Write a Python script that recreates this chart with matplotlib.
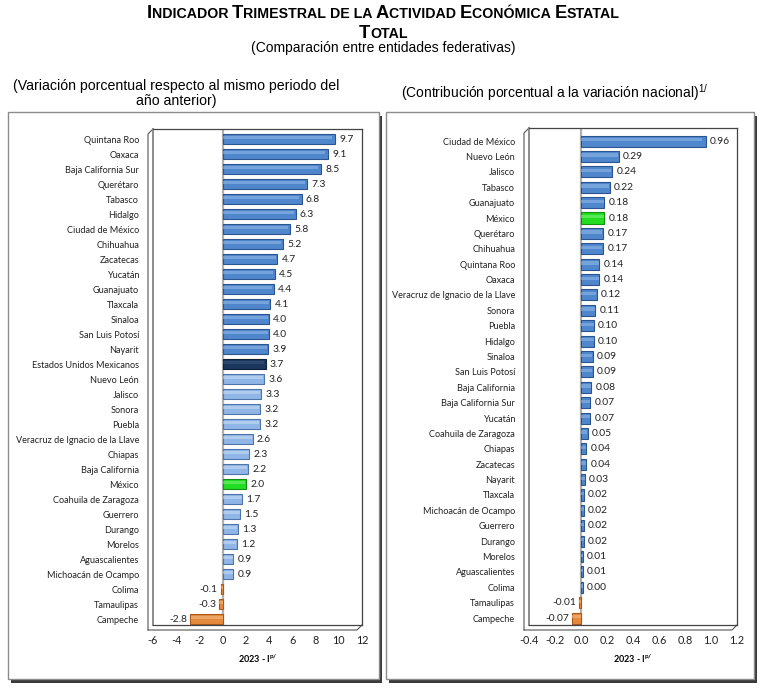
import numpy as np
import matplotlib.pyplot as plt
from matplotlib.patches import Rectangle
from matplotlib.lines import Line2D
from matplotlib.offsetbox import TextArea, HPacker, AnnotationBbox
from matplotlib import font_manager

# ---- data -------------------------------------------------------------
estados_var = ["Quintana Roo", "Oaxaca", "Baja California Sur", "Querétaro", "Tabasco",
               "Hidalgo", "Ciudad de México", "Chihuahua", "Zacatecas", "Yucatán",
               "Guanajuato", "Tlaxcala", "Sinaloa", "San Luis Potosí", "Nayarit",
               "Estados Unidos Mexicanos", "Nuevo León", "Jalisco", "Sonora", "Puebla",
               "Veracruz de Ignacio de la Llave", "Chiapas", "Baja California", "México",
               "Coahuila de Zaragoza", "Guerrero", "Durango", "Morelos", "Aguascalientes",
               "Michoacán de Ocampo", "Colima", "Tamaulipas", "Campeche"]
var_pct = [9.7, 9.1, 8.5, 7.3, 6.8, 6.3, 5.8, 5.2, 4.7, 4.5, 4.4, 4.1, 4.0, 4.0, 3.9,
           3.7, 3.6, 3.3, 3.2, 3.2, 2.6, 2.3, 2.2, 2.0, 1.7, 1.5, 1.3, 1.2, 0.9, 0.9,
           -0.1, -0.3, -2.8]

estados_con = ["Ciudad de México", "Nuevo León", "Jalisco", "Tabasco", "Guanajuato", "México",
               "Querétaro", "Chihuahua", "Quintana Roo", "Oaxaca",
               "Veracruz de Ignacio de la Llave", "Sonora", "Puebla", "Hidalgo", "Sinaloa",
               "San Luis Potosí", "Baja California", "Baja California Sur", "Yucatán",
               "Coahuila de Zaragoza", "Chiapas", "Zacatecas", "Nayarit", "Tlaxcala",
               "Michoacán de Ocampo", "Guerrero", "Durango", "Morelos", "Aguascalientes",
               "Colima", "Tamaulipas", "Campeche"]
contrib = [0.96, 0.29, 0.24, 0.22, 0.18, 0.18, 0.17, 0.17, 0.14, 0.14, 0.12, 0.11, 0.10,
           0.10, 0.09, 0.09, 0.08, 0.07, 0.07, 0.05, 0.04, 0.04, 0.03, 0.02, 0.02, 0.02,
           0.02, 0.01, 0.01, 0.00, -0.01, -0.07]

# ---- fonts ------------------------------------------------------------
names = {f.name for f in font_manager.fontManager.ttflist}
narrow = ["Liberation Sans Narrow", "Liberation Sans"] if "Liberation Sans Narrow" in names else ["Liberation Sans"]
lblfont = ["Lato", "DejaVu Sans"]
plt.rcParams['font.family'] = lblfont

W, H = 766, 689
fig = plt.figure(figsize=(W / 100, H / 100), dpi=100)

def fx(px):
    return px / W

def fy(py):
    return 1 - py / H

# colours: (main, highlight, edge)
C_BLUE = ("#4f86cc", "#9cc0ec", "#2c5590")
C_LIGHT = ("#8fb6e6", "#d0e1f5", "#4f74a8")
C_NAVY = ("#1b365d", "#3d5a85", "#0e1f38")
C_GREEN = ("#22dd22", "#8af58a", "#139013")
C_ORANGE = ("#e58a3c", "#f5c08e", "#a85a1c")

# ---- titles -----------------------------------------------------------
def smallcaps(words, big, small):
    # words: list of (text, capitalised?)
    parts = []
    for k, (w, cap) in enumerate(words):
        t = w if k == len(words) - 1 else w + " "
        if cap:
            parts.append(TextArea(t[0], textprops=dict(size=big, weight="bold", family=narrow)))
            t = t[1:]
        if t:
            parts.append(TextArea(t.upper(), textprops=dict(size=small, weight="bold", family=narrow)))
    return HPacker(children=parts, align="baseline", pad=0, sep=0)

t1 = smallcaps([("Indicador", True), ("Trimestral", True), ("de la", False),
                ("Actividad", True), ("Económica", True), ("Estatal", True)], 13.2, 10.2)
fig.add_artist(AnnotationBbox(t1, (0.5, fy(13)), xycoords="figure fraction", frameon=False,
                              box_alignment=(0.5, 0.5), pad=0))
t2 = smallcaps([("Total", True)], 13.2, 10.2)
fig.add_artist(AnnotationBbox(t2, (0.5, fy(33)), xycoords="figure fraction", frameon=False,
                              box_alignment=(0.5, 0.5), pad=0))
fig.text(0.5, fy(48), "(Comparación entre entidades federativas)", ha="center", va="center",
         size=10, family=narrow)

fig.text(fx(176), fy(86), "(Variación porcentual respecto al mismo periodo del",
         ha="center", va="center", size=10.2, family=narrow)
fig.text(fx(176), fy(101), "año anterior)", ha="center", va="center", size=10.2, family=narrow)
fig.text(fx(555), fy(93), "(Contribución porcentual a la variación nacional)$^{\\mathregular{1/}}$",
         ha="center", va="center", size=10, family=narrow)

# ---- panel frames -----------------------------------------------------
for (x0, x1) in [(8, 379), (386, 754)]:
    y0, y1 = 112, 679
    fig.patches.append(Rectangle((fx(x0 + 3), fy(y1 + 4)), fx(x1 - x0), fy(y0) - fy(y1),
                                 transform=fig.transFigure, facecolor="#3a3a3a",
                                 edgecolor="none", zorder=-3))
    fig.patches.append(Rectangle((fx(x0), fy(y1)), fx(x1 - x0), fy(y0) - fy(y1),
                                 transform=fig.transFigure, facecolor="white",
                                 edgecolor="#8c8c8c", linewidth=1.0, zorder=-2))

# ---- bar charts -------------------------------------------------------
def draw_panel(rect, labels, values, colors, xlim, ticks, fmt, tfmt, ylim_pad, bh, minw):
    ax = fig.add_axes(rect)
    ax.patch.set_alpha(0)
    n = len(values)
    y = np.arange(n)[::-1]
    ax.set_xlim(*xlim)
    ax.set_ylim(-ylim_pad[0], n - 1 + ylim_pad[1])
    ax.axvline(0, color="#b0b0b0", linewidth=1.6, zorder=1)
    span = xlim[1] - xlim[0]
    for yi, v, c in zip(y, values, colors):
        w = v if abs(v) >= minw else (minw if v >= 0 else -minw)
        ax.barh(yi, w, height=bh, color=c[0], edgecolor=c[2], linewidth=0.8, zorder=2)
        ax.barh(yi + bh * 0.12, w * 0.97, left=0, height=bh * 0.3,
                color=c[1], alpha=0.5, linewidth=0, zorder=3)
        if v >= 0:
            ax.text(w + span * 0.02, yi, fmt.format(v), va="center", ha="left", size=7.4,
                    color="#222222")
        else:
            ax.text(w - span * 0.015, yi, fmt.format(v), va="center", ha="right", size=7.4,
                    color="#222222")
    ax.set_yticks(y)
    ax.set_yticklabels(labels, size=6.6, color="#222222")
    ax.set_xticks(ticks)
    ax.set_xticklabels([tfmt.format(t) for t in ticks], size=7.8, color="#222222")
    ax.tick_params(length=0, pad=7)
    ax.tick_params(axis="y", pad=10)
    for s in ax.spines.values():
        s.set_color("#444444")
        s.set_linewidth(0.9)
    ax.spines["left"].set_color("#8c8c8c")
    ax.spines["left"].set_linewidth(1.4)
    # pseudo 3D wall / floor edges
    tr = ax.transAxes
    dxw = 5 / (rect[2] * W)
    dyw = 5 / (rect[3] * H)
    ax.add_line(Line2D([-dxw, -dxw, 0], [-dyw, 1 - dyw, 1], transform=tr, color="#555555",
                       linewidth=0.8, clip_on=False))
    ax.add_line(Line2D([-dxw, 1 - dxw, 1], [-dyw, -dyw, 0], transform=tr, color="#555555",
                       linewidth=0.8, clip_on=False))
    ax.set_xlabel("2023 - I$^{\\mathregular{p/}}$", size=6.5, weight="bold", labelpad=5)
    return ax

colors_var = []
for k, (name, v) in enumerate(zip(estados_var, var_pct)):
    if v < 0:
        colors_var.append(C_ORANGE)
    elif name == "Estados Unidos Mexicanos":
        colors_var.append(C_NAVY)
    elif name == "México":
        colors_var.append(C_GREEN)
    elif k > estados_var.index("Estados Unidos Mexicanos"):
        colors_var.append(C_LIGHT)
    else:
        colors_var.append(C_BLUE)

colors_con = []
for name, v in zip(estados_con, contrib):
    if v < 0:
        colors_con.append(C_ORANGE)
    elif name == "México":
        colors_con.append(C_GREEN)
    else:
        colors_con.append(C_BLUE)

draw_panel([fx(153), fy(625), fx(362 - 153), fy(129) - fy(625)], estados_var, var_pct,
           colors_var, (-6, 12), [-6, -4, -2, 0, 2, 4, 6, 8, 10, 12], "{:.1f}", "{:g}",
           (0.4, 0.667), 0.72, 0.15)
draw_panel([fx(529), fy(625), fx(737 - 529), fy(128) - fy(625)], estados_con, contrib,
           colors_con, (-0.4, 1.2), [-0.4, -0.2, 0.0, 0.2, 0.4, 0.6, 0.8, 1.0, 1.2], "{:.2f}",
           "{:.1f}", (0.45, 0.85), 0.72, 0.015)

fig.savefig("out.png", dpi=100)
